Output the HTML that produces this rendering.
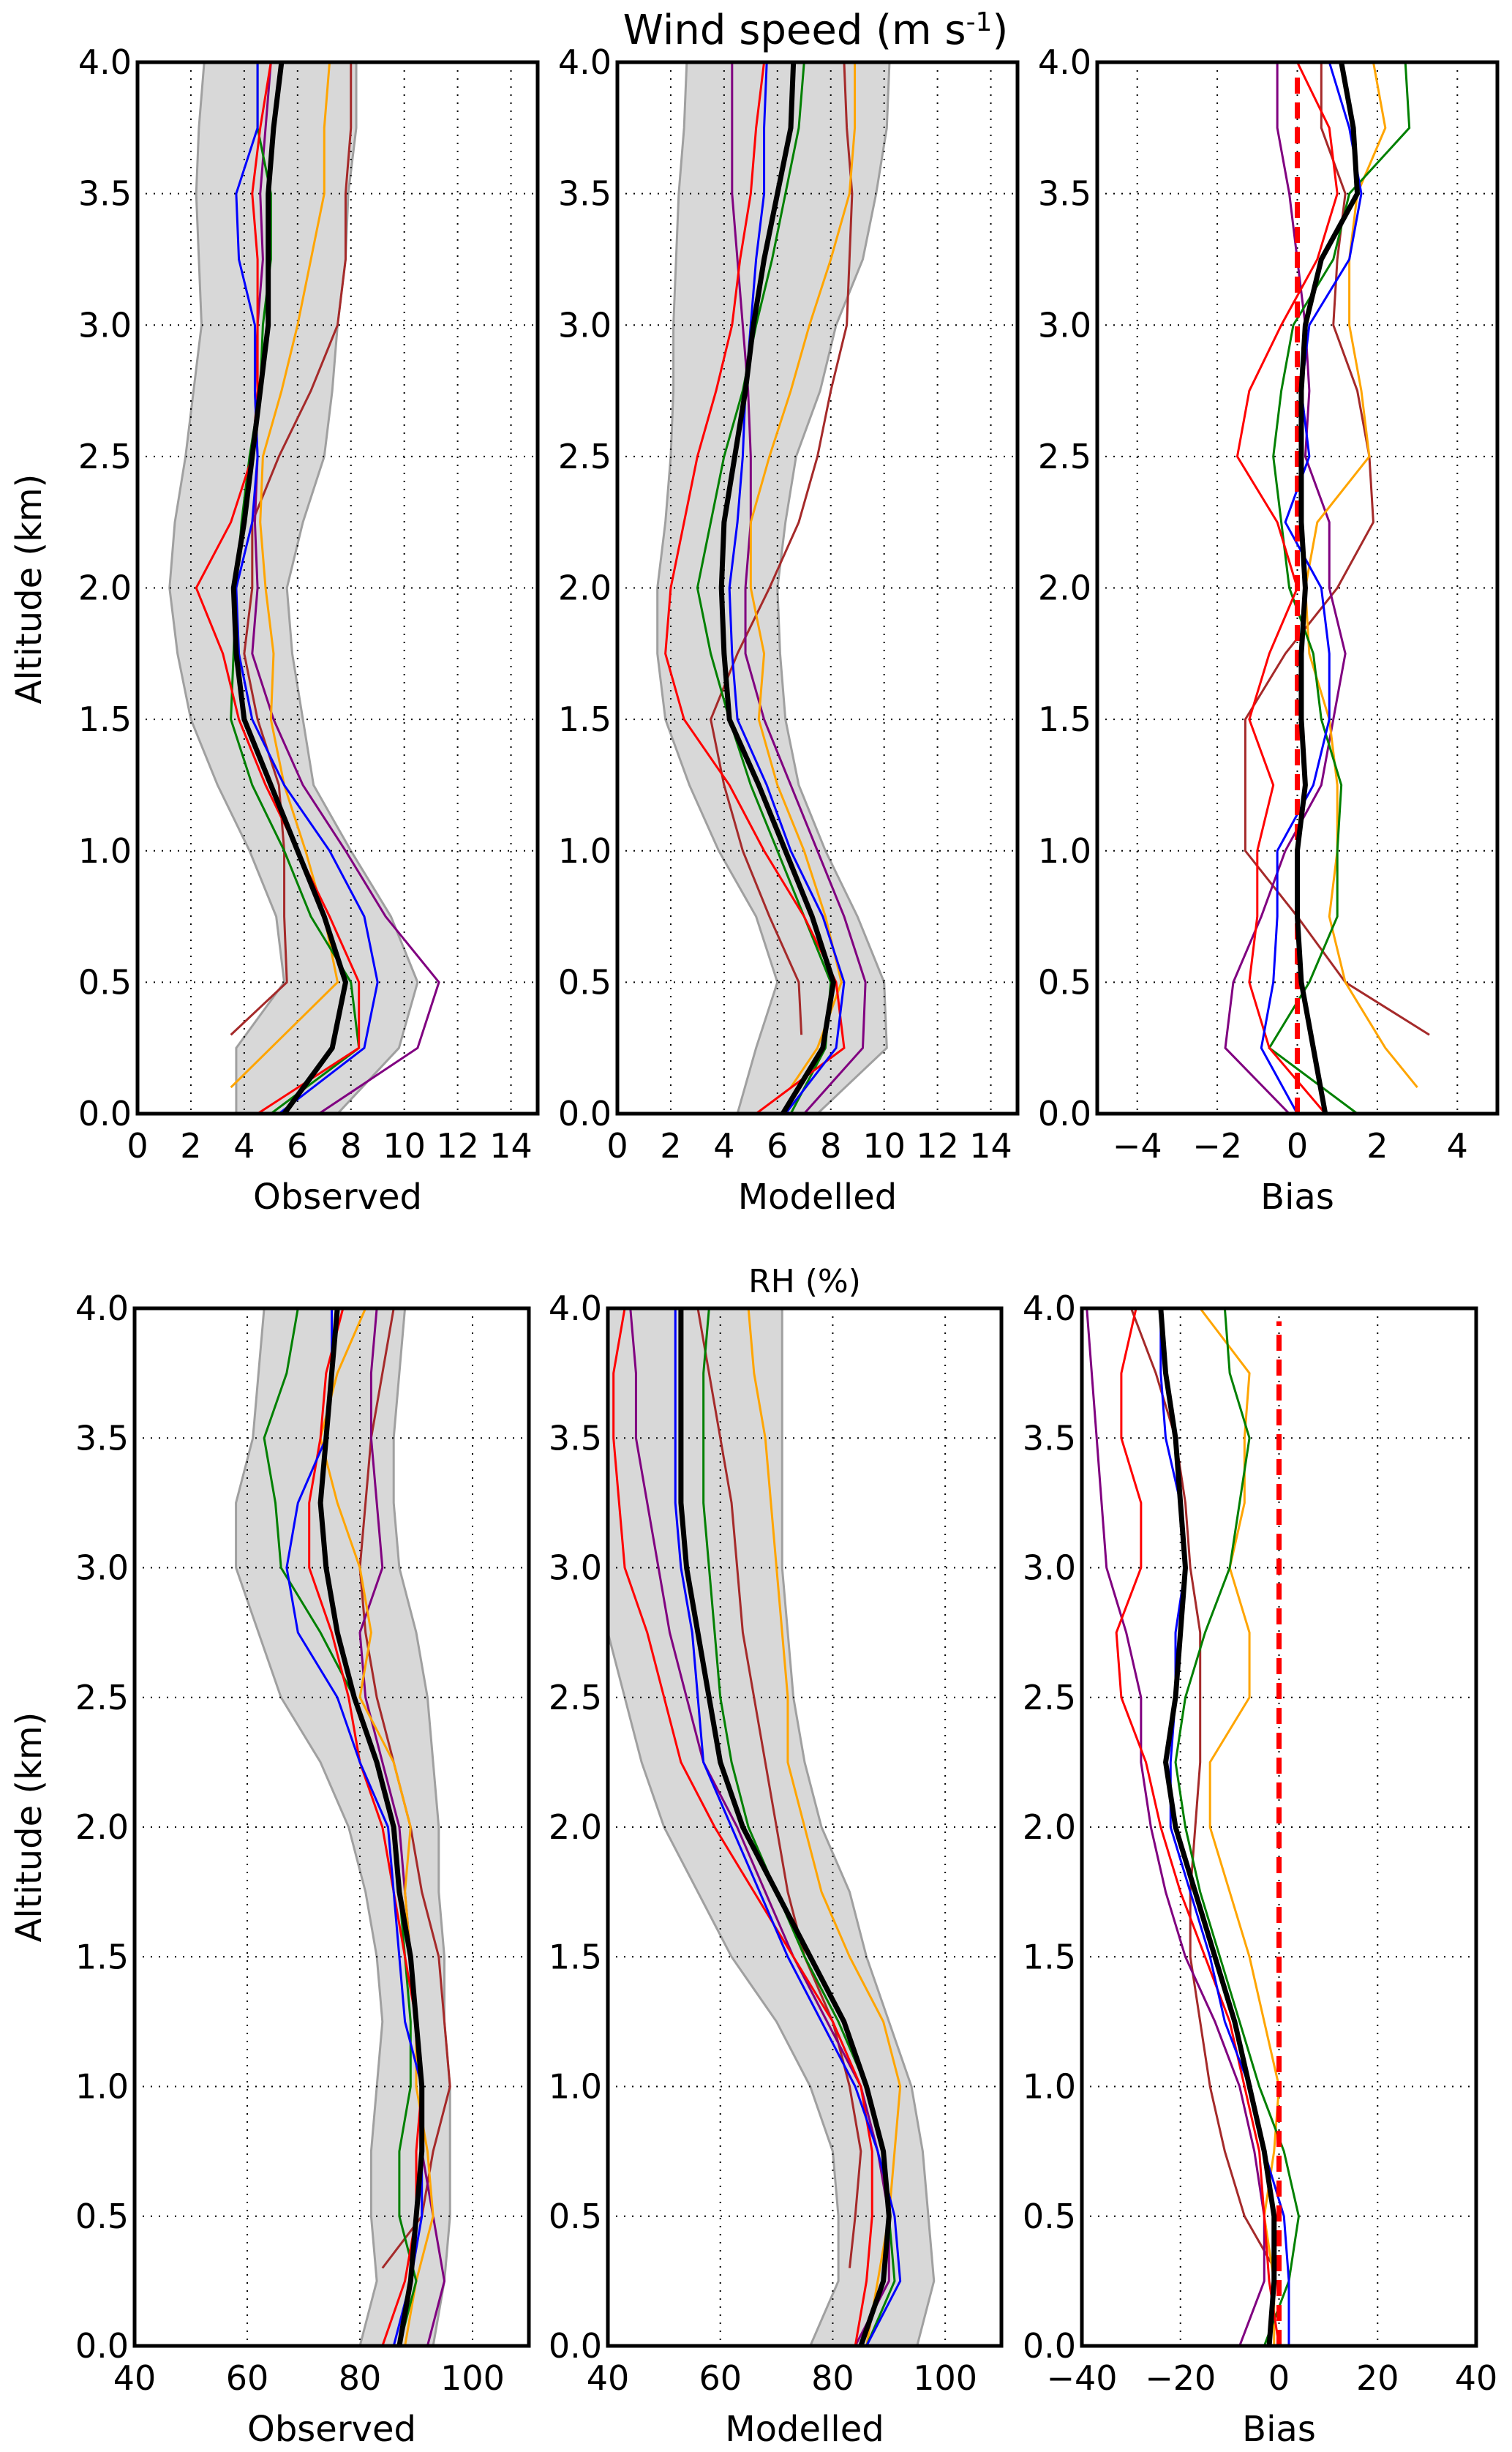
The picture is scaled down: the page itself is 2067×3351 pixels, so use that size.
<!DOCTYPE html>
<html><head><meta charset="utf-8"><style>
html,body{margin:0;padding:0;background:#fff}
svg{display:block;font-family:"DejaVu Sans","Liberation Sans",sans-serif}
</style></head><body>
<svg id="chart" width="2067" height="3351" viewBox="0 0 2067 3351" xmlns="http://www.w3.org/2000/svg">
<text x="1115" y="60" font-size="56" text-anchor="middle">Wind speed (m s<tspan font-size="36" dy="-18">-1</tspan><tspan dy="18">)</tspan></text>
<text x="1100" y="1766" font-size="44" text-anchor="middle">RH (%)</text>
<text transform="translate(56,805) rotate(-90)" font-size="48" text-anchor="middle">Altitude (km)</text>
<text transform="translate(56,2497) rotate(-90)" font-size="48" text-anchor="middle">Altitude (km)</text>
</svg>
<script>
const alt=[0,0.25,0.5,0.75,1,1.25,1.5,1.75,2,2.25,2.5,2.75,3,3.25,3.5,3.75,4];
const altTicks=["0.0","0.5","1.0","1.5","2.0","2.5","3.0","3.5","4.0"];
const N=null;
// Wind observed
const wsObsLo=[3.7,3.7,5.5,5.2,4.2,3.0,2.0,1.5,1.2,1.4,1.8,2.1,2.4,2.3,2.2,2.3,2.5];
const wsObsHi=[7.5,9.8,10.5,9.5,8.0,6.6,6.2,5.8,5.6,6.2,7.0,7.3,7.5,7.8,7.9,8.2,8.2];
const wsObsBlack=[5.5,7.3,7.8,7.0,6.0,5.0,4.0,3.7,3.6,4.0,4.3,4.6,4.9,4.9,4.9,5.1,5.4];
const wsObsBlue=[5.3,8.5,9.0,8.5,7.2,5.5,4.3,3.8,3.7,4.3,4.5,4.4,4.4,3.8,3.7,4.5,4.5];
const wsObsGreen=[5.0,8.3,8.0,6.5,5.5,4.3,3.5,3.6,3.7,3.9,4.2,4.6,4.7,5.0,5.0,4.5,4.5];
const wsObsRed=[4.5,8.3,8.3,7.2,6.0,4.8,3.8,3.2,2.2,3.5,4.3,4.5,4.5,4.5,4.3,4.6,5.0];
const wsObsOrange=[N,5.0,7.5,7.0,6.3,5.5,5.0,5.1,4.8,4.6,4.7,5.4,6.0,6.5,7.0,7.0,7.2];
const wsObsBrown=[N,N,5.6,5.5,5.5,5.3,4.5,4.0,4.3,4.3,5.3,6.5,7.5,7.8,7.8,8.0,8.0];
const wsObsPurple=[6.8,10.5,11.3,9.3,7.8,6.2,5.1,4.3,4.5,4.4,4.5,4.4,4.5,4.7,4.6,4.8,5.0];
// Wind modelled
const wsModLo=[4.5,5.2,6.0,5.2,3.8,2.7,1.8,1.5,1.5,1.8,2.0,2.1,2.1,2.2,2.3,2.5,2.6];
const wsModHi=[7.5,10.1,10.0,9.0,7.8,6.8,6.3,6.1,6.0,6.3,6.7,7.6,8.2,9.2,9.7,10.1,10.2];
const wsModBlack=[6.2,7.7,8.1,7.3,6.3,5.3,4.2,4.0,3.9,4.0,4.4,4.8,5.1,5.5,6.0,6.5,6.6];
const wsModBlue=[6.3,8.2,8.5,7.7,6.5,5.6,4.5,4.3,4.2,4.5,4.7,4.8,5.0,5.2,5.5,5.5,5.6];
const wsModGreen=[6.5,7.8,8.0,7.0,6.0,5.0,4.2,3.5,3.0,3.5,4.0,4.7,5.2,5.8,6.3,6.8,7.0];
const wsModRed=[5.2,8.5,8.2,7.0,5.5,4.2,2.5,1.8,2.0,2.5,3.0,3.7,4.3,4.6,5.0,5.2,5.5];
const wsModOrange=[N,7.5,8.4,7.8,7.0,6.0,5.3,5.5,5.0,5.0,5.7,6.5,7.2,8.0,8.7,8.9,8.9];
const wsModBrown=[N,N,6.8,5.7,4.7,4.0,3.5,4.5,5.7,6.8,7.5,8.0,8.6,8.7,8.8,8.6,8.5];
const wsModPurple=[7.0,9.2,9.3,8.5,7.5,6.5,5.5,4.8,4.8,5.0,5.0,4.9,4.7,4.5,4.3,4.3,4.3];
// Wind bias
const wsBiasBlack=[0.7,0.4,0.1,0,0,0.2,0.1,0.1,0.2,0.1,0.1,0.1,0.2,0.6,1.5,1.4,1.1];
const wsBiasBlue=[0,-0.9,-0.6,-0.5,-0.5,0.4,0.8,0.8,0.6,-0.3,0.3,0.1,0.3,1.3,1.6,1.3,0.8];
const wsBiasGreen=[1.5,-0.7,0.3,1.0,1.0,1.1,0.6,0.4,-0.2,-0.4,-0.6,-0.4,-0.1,0.9,1.3,2.8,2.7];
const wsBiasRed=[0.7,-0.7,-1.2,-1.0,-1.0,-0.6,-1.2,-0.7,0,-0.5,-1.5,-1.2,-0.4,0.5,1.0,0.8,0];
const wsBiasOrange=[N,2.2,1.2,0.8,1.0,1.0,0.8,0.3,0.2,0.5,1.8,1.6,1.3,1.3,1.5,2.2,1.9];
const wsBiasBrown=[N,N,1.2,0,-1.3,-1.3,-1.3,-0.3,1.0,1.9,1.8,1.5,0.9,1.0,1.2,0.6,0.6];
const wsBiasPurple=[-0.2,-1.8,-1.6,-0.9,-0.3,0.6,0.9,1.2,0.8,0.8,0.2,0.3,0.2,0,-0.2,-0.5,-0.5];
// RH observed
const rhObsLo=[80,83,82,82,83,84,83,81,78,73,66,62,58,58,61,62,63];
const rhObsHi=[93,95,96,96,96,95,95,94,94,93,92,90,87,86,86,87,88];
const rhObsBlack=[87,89,90,91,91,90,89,87,86,83,79,76,74,73,74,75,76];
const rhObsBlue=[86,89,91,91,91,88,87,86,85,80,76,69,67,69,74,75,75];
const rhObsGreen=[87,90,87,87,89,89,88,87,86,83,79,73,66,65,63,67,69];
const rhObsRed=[84,88,90,90,91,90,88,86,84,80,78,75,71,71,73,74,77];
const rhObsOrange=[88,90,93,92,90,90,89,88,89,86,80,82,80,76,73,76,81];
const rhObsBrown=[N,N,91,93,96,95,94,91,89,86,83,81,80,81,82,84,86];
const rhObsPurple=[92,95,93,91,91,90,89,88,87,84,81,80,84,83,82,82,83];
// RH modelled
const rhModLo=[76,81,81,80,76,70,62,56,50,46,43,40,40,40,40,40,40];
const rhModHi=[95,98,97,96,94,90,86,83,78,75,73,72,71,71,71,71,71];
const rhModBlack=[85,89,90,89,86,82,76,70,64,60,58,56,54,53,53,53,53];
const rhModBlue=[86,92,91,88,84,78,72,67,62,57,56,55,53,52,52,52,52];
const rhModGreen=[86,91,90,89,86,81,75,70,65,62,60,59,58,57,57,57,58];
const rhModRed=[84,86,87,87,85,80,73,66,59,53,50,47,43,42,41,41,43];
const rhModOrange=[86,88,90,91,92,89,83,78,75,72,72,71,70,69,68,66,65];
const rhModBrown=[N,N,84,85,83,80,75,72,70,68,66,64,63,62,60,58,56];
const rhModPurple=[84,90,90,88,85,79,73,68,63,57,54,51,49,47,45,45,44];
// RH bias
const rhBiasBlack=[-2,-1,-1,-3,-6,-9,-13,-17,-21,-23,-21,-20,-19,-20,-21,-23,-24];
const rhBiasBlue=[2,2,1,-3,-6,-11,-14,-18,-22,-22,-21,-21,-19,-20,-23,-24,-24];
const rhBiasGreen=[-3,2,4,1,-4,-8,-12,-16,-19,-21,-19,-15,-10,-8,-6,-10,-11];
const rhBiasRed=[0,-2,-3,-4,-7,-10,-15,-20,-24,-27,-32,-33,-28,-28,-32,-32,-29];
const rhBiasOrange=[-1,-1,-3,-1,0,-3,-6,-10,-14,-14,-6,-6,-10,-7,-7,-6,-16];
const rhBiasBrown=[N,N,-7,-11,-14,-16,-18,-18,-17,-16,-16,-16,-18,-19,-21,-25,-30];
const rhBiasPurple=[-8,-3,-3,-5,-8,-13,-19,-23,-26,-28,-28,-31,-35,-36,-37,-38,-39];
const wsTicks=[0,2,4,6,8,10,12,14];
const wsBiasTicks=[-4,-2,0,2,4];
const rhTicks=[40,60,80,100];
const rhBiasTicks=[-40,-20,0,20,40];
// special start points (brown at 0.3 km, orange at 0.1 km)
const brownStartAlt=0.3, orangeStartAlt=0.1;
const wsStarts={obsOrange:3.5,obsBrown:3.5,modOrange:6.5,modBrown:6.9,biasOrange:3.0,biasBrown:3.3};
const rhStarts={obsBrown:84,modBrown:83,biasBrown:-1};

const svg=document.getElementById('chart');
const NS='http://www.w3.org/2000/svg';
function mk(tag,attrs,parent){const e=document.createElementNS(NS,tag);for(const k in attrs)e.setAttribute(k,attrs[k]);(parent||svg).appendChild(e);return e;}
const colors={blue:'#0000ff',green:'#008000',red:'#ff0000',orange:'#ffa500',brown:'#a52a2a',purple:'#800080'};

function panel(name,box,xmin,xmax,xticks,xlabel,lo,hi,series,starts,zeroLine){
  const [L,R,T,B]=box;
  const sx=v=>L+(v-xmin)/(xmax-xmin)*(R-L);
  const sy=a=>B-a/4*(B-T);
  const g=mk('g',{});
  
  
  const clip=mk('clipPath',{id:'c'+name},g);
  mk('rect',{x:L,y:T,width:R-L,height:B-T},clip);
  const inner=mk('g',{'clip-path':'url(#c'+name+')'},g);
  if(lo){
    let d='M'+alt.map((a,i)=>sx(lo[i])+','+sy(a)).join('L');
    for(let i=alt.length-1;i>=0;i--)d+='L'+sx(hi[i])+','+sy(alt[i]);
    const env=mk('path',{d:d+'Z',fill:'#d8d8d8',stroke:'#a0a0a0','stroke-width':3},inner);
    
    
  }
  // grid
  xticks.forEach(t=>{const x=sx(t);const l=mk('line',{x1:x,x2:x,y1:T,y2:B,stroke:'#000','stroke-width':2,'stroke-dasharray':'2,9'},inner);
    });
  for(let i=1;i<8;i++){const y=sy(i*0.5);const l=mk('line',{x1:L,x2:R,y1:y,y2:y,stroke:'#000','stroke-width':2,'stroke-dasharray':'2,9'},inner);
    }
  const order=['brown','purple','orange','green','red','blue'];
  order.forEach(c=>{
    const vals=series[c];
    let pts=[];
    if(starts&&starts[c]!==undefined)pts.push([starts[c],c==='brown'?brownStartAlt:orangeStartAlt]);
    vals.forEach((v,i)=>{if(v!==null)pts.push([v,alt[i]]);});
    const p=mk('polyline',{points:pts.map(p=>sx(p[0])+','+sy(p[1])).join(' '),fill:'none',stroke:colors[c],'stroke-width':3},inner);
    
    
  });
  if(zeroLine){
    const z=mk('line',{x1:sx(0),x2:sx(0),y1:sy(0),y2:sy(3.95),stroke:'#ff0000','stroke-width':7,'stroke-dasharray':'22,12'},inner);
    
    
  }
  const bk=mk('polyline',{points:series.black.map((v,i)=>sx(v)+','+sy(alt[i])).join(' '),fill:'none',stroke:'#000','stroke-width':7},inner);
  
  
  const fr=mk('rect',{x:L,y:T,width:R-L,height:B-T,fill:'none',stroke:'#000','stroke-width':5},g);
  
  
  xticks.forEach(t=>{const tx=mk('text',{x:sx(t),y:B+60,'font-size':46,'text-anchor':'middle'},g);
    tx.textContent=(t<0?'\u2212'+(-t):String(t));
    });
  altTicks.forEach((s,i)=>{const tx=mk('text',{x:L-8,y:sy(i*0.5)+16,'font-size':46,'text-anchor':'end'},g);
    tx.textContent=s;});
  const xl=mk('text',{x:(L+R)/2,y:B+130,'font-size':48,'text-anchor':'middle'},g);
  xl.textContent=xlabel;
  
  
}
const topY=[85,1522], botY=[1788,3206];
panel('ws-observed',[188,735,topY[0],topY[1]],0,15,wsTicks,'Observed',wsObsLo,wsObsHi,
 {black:wsObsBlack,blue:wsObsBlue,green:wsObsGreen,red:wsObsRed,orange:wsObsOrange,brown:wsObsBrown,purple:wsObsPurple},
 {orange:wsStarts.obsOrange,brown:wsStarts.obsBrown},false);
panel('ws-modelled',[844,1391,topY[0],topY[1]],0,15,wsTicks,'Modelled',wsModLo,wsModHi,
 {black:wsModBlack,blue:wsModBlue,green:wsModGreen,red:wsModRed,orange:wsModOrange,brown:wsModBrown,purple:wsModPurple},
 {orange:wsStarts.modOrange,brown:wsStarts.modBrown},false);
panel('ws-bias',[1500,2047,topY[0],topY[1]],-5,5,wsBiasTicks,'Bias',null,null,
 {black:wsBiasBlack,blue:wsBiasBlue,green:wsBiasGreen,red:wsBiasRed,orange:wsBiasOrange,brown:wsBiasBrown,purple:wsBiasPurple},
 {orange:wsStarts.biasOrange,brown:wsStarts.biasBrown},true);
panel('rh-observed',[184,723,botY[0],botY[1]],40,110,rhTicks,'Observed',rhObsLo,rhObsHi,
 {black:rhObsBlack,blue:rhObsBlue,green:rhObsGreen,red:rhObsRed,orange:rhObsOrange,brown:rhObsBrown,purple:rhObsPurple},
 {brown:rhStarts.obsBrown},false);
panel('rh-modelled',[831,1369,botY[0],botY[1]],40,110,rhTicks,'Modelled',rhModLo,rhModHi,
 {black:rhModBlack,blue:rhModBlue,green:rhModGreen,red:rhModRed,orange:rhModOrange,brown:rhModBrown,purple:rhModPurple},
 {brown:rhStarts.modBrown},false);
panel('rh-bias',[1479,2018,botY[0],botY[1]],-40,40,rhBiasTicks,'Bias',null,null,
 {black:rhBiasBlack,blue:rhBiasBlue,green:rhBiasGreen,red:rhBiasRed,orange:rhBiasOrange,brown:rhBiasBrown,purple:rhBiasPurple},
 {brown:rhStarts.biasBrown},true);
</script>
</body></html>
